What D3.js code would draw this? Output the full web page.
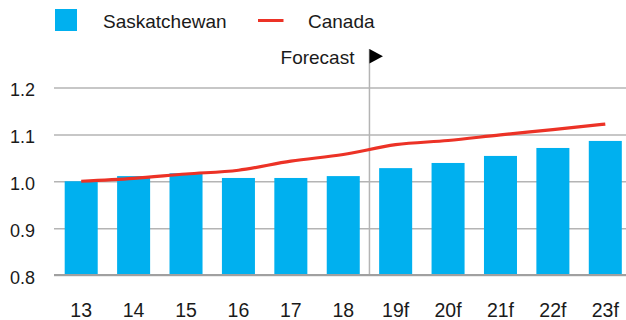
<!DOCTYPE html>
<html>
<head>
<meta charset="utf-8">
<script src="https://cdn.jsdelivr.net/npm/d3@7"></script>
<style>
  html, body { margin: 0; padding: 0; background: #fff; }
  svg { display: block; font-family: "Liberation Sans", Arial, Helvetica, sans-serif; }
</style>
</head>
<body>
<svg id="chart" width="626" height="320"></svg>
<script>
// Years (f = forecast)
const years = ["13", "14", "15", "16", "17", "18", "19f", "20f", "21f", "22f", "23f"];
// Index values
const saskatchewan = [1.000, 1.011, 1.017, 1.007, 1.007, 1.011, 1.028, 1.039, 1.054, 1.071, 1.086];
const canada       = [1.000, 1.006, 1.0155, 1.0235, 1.043, 1.057, 1.078, 1.087, 1.099, 1.110, 1.122];
const yTicks = [0.8, 0.9, 1.0, 1.1, 1.2];
const firstForecast = "19f";

const BLUE = "#00b0ef";
const RED = "#ec3226";
const TEXT = "#1a1a1a";

const svg = d3.select("#chart");

const plotLeft = 54, plotRight = 626;
const x = d3.scaleBand()
  .domain(years)
  .range([55, 631.5])
  .paddingInner(0.37)
  .paddingOuter(0.185);

const y = d3.scaleLinear()
  .domain([0.8, 1.2])
  .range([275, 87.5]);

// Horizontal gridlines + y labels
const yAxis = d3.axisLeft(y)
  .tickValues(yTicks)
  .tickFormat(d3.format(".1f"))
  .tickSizeInner(-(plotRight - plotLeft))
  .tickSizeOuter(0)
  .tickPadding(19);

const gy = svg.append("g")
  .attr("transform", `translate(${plotLeft},0)`)
  .call(yAxis);
gy.select(".domain").remove();
gy.selectAll(".tick line")
  .attr("stroke", "#b4b4b4")
  .attr("stroke-width", 1.5);
gy.selectAll(".tick text")
  .attr("fill", TEXT)
  .attr("font-size", 18)
  .attr("dy", "0.45em");

// Forecast divider
const divX = (x(years[years.indexOf(firstForecast) - 1]) + x.bandwidth() + x(firstForecast)) / 2;
svg.append("line")
  .attr("x1", divX).attr("x2", divX)
  .attr("y1", 49).attr("y2", y(0.8))
  .attr("stroke", "#b4b4b4")
  .attr("stroke-width", 1.5);
svg.append("path")
  .attr("d", `M${divX},49 L${divX + 13.5},56.3 L${divX},63.5 Z`)
  .attr("fill", "#000");
svg.append("text")
  .attr("x", divX - 15)
  .attr("y", 64)
  .attr("text-anchor", "end")
  .attr("font-size", 19)
  .attr("fill", TEXT)
  .text("Forecast");

// Bars
svg.append("g")
  .selectAll("rect")
  .data(years)
  .join("rect")
  .attr("x", d => x(d))
  .attr("width", x.bandwidth())
  .attr("y", (d, i) => y(saskatchewan[i]))
  .attr("height", (d, i) => y(0.8) - y(saskatchewan[i]))
  .attr("fill", BLUE);

// Baseline
svg.append("line")
  .attr("x1", plotLeft).attr("x2", plotRight)
  .attr("y1", y(0.8)).attr("y2", y(0.8))
  .attr("stroke", "#a0a0a0")
  .attr("stroke-width", 2.2);

// Canada line
const line = d3.line()
  .x((d, i) => x(years[i]) + x.bandwidth() / 2)
  .y(d => y(d))
  .curve(d3.curveMonotoneX);
svg.append("path")
  .datum(canada)
  .attr("d", line)
  .attr("fill", "none")
  .attr("stroke", RED)
  .attr("stroke-width", 3.2);

// X labels
const xAxis = d3.axisBottom(x).tickSize(0).tickPadding(0);
const gx = svg.append("g")
  .attr("transform", `translate(0,${y(0.8)})`)
  .call(xAxis);
gx.select(".domain").remove();
gx.selectAll(".tick text")
  .attr("fill", TEXT)
  .attr("font-size", 19.5)
  .attr("dy", 0)
  .attr("y", 42);

// Legend
const legend = svg.append("g");
legend.append("rect")
  .attr("x", 55).attr("y", 9)
  .attr("width", 22).attr("height", 22)
  .attr("fill", BLUE);
legend.append("text")
  .attr("x", 103).attr("y", 27.5)
  .attr("font-size", 19)
  .attr("fill", TEXT)
  .text("Saskatchewan");
legend.append("line")
  .attr("x1", 258).attr("x2", 283.5)
  .attr("y1", 20.5).attr("y2", 20.5)
  .attr("stroke", RED)
  .attr("stroke-width", 3);
legend.append("text")
  .attr("x", 308).attr("y", 27.5)
  .attr("font-size", 19)
  .attr("fill", TEXT)
  .text("Canada");
</script>
</body>
</html>
